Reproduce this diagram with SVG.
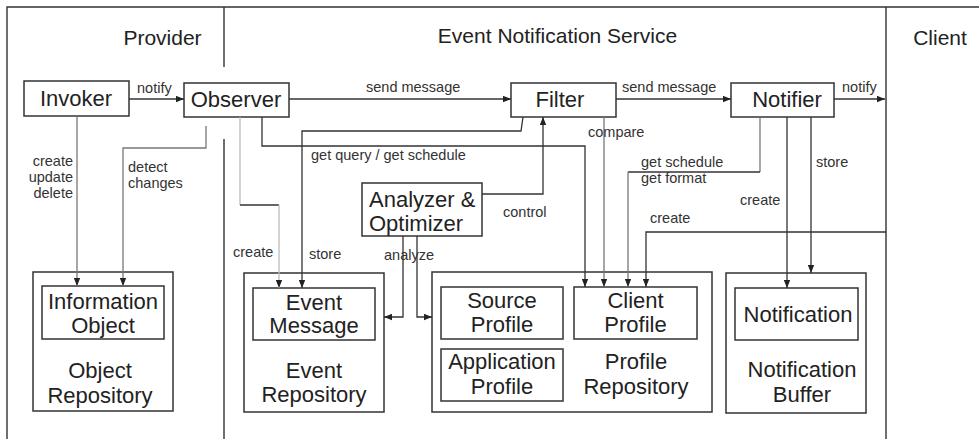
<svg xmlns="http://www.w3.org/2000/svg" width="979" height="439" viewBox="0 0 979 439">
  <style>
    .frame { fill: none; stroke: #333; stroke-width: 1.4; }
    .box { fill: none; stroke: #333; stroke-width: 1.5; }
    .title { font-family: "Liberation Sans", Arial, sans-serif; font-size: 21px; fill: #222; text-anchor: middle; }
    .node { font-family: "Liberation Sans", Arial, sans-serif; font-size: 22px; fill: #222; text-anchor: middle; }
    .node.left { text-anchor: start; }
    .lbl { font-family: "Liberation Sans", Arial, sans-serif; font-size: 14.5px; fill: #333; }
    .lbl.end { text-anchor: end; }
    .c { fill: none; stroke: #333; stroke-width: 1.3; }
    .g { fill: none; stroke: #777; stroke-width: 1.3; }
    .lg { fill: none; stroke: #bbb; stroke-width: 1.3; }
  </style>
  <defs>
    <marker id="arrow" viewBox="0 0 10 8" refX="10" refY="4" markerWidth="8" markerHeight="7" markerUnits="userSpaceOnUse" orient="auto">
      <path d="M0,0 L10,4 L0,8 z" fill="#222"/>
    </marker>
  </defs>

  <rect width="979" height="439" fill="#fff"/>

  <!-- swimlane frame -->
  <g id="lanes">
    <path class="frame" d="M7,439 V7 H979"/>
    <path class="frame" d="M224,7 V67 M224,139 V439"/>
    <path class="frame" d="M886,7 V439"/>
    <text class="title" x="162.5" y="45">Provider</text>
    <text class="title" x="557.5" y="43">Event Notification Service</text>
    <text class="title" x="940" y="45">Client</text>
  </g>

  <!-- nodes -->
  <g id="invoker">
    <rect class="box" x="24" y="81" width="105" height="35"/>
    <text class="node" x="76" y="106">Invoker</text>
  </g>
  <g id="observer">
    <rect class="box" x="184" y="83" width="105" height="34"/>
    <text class="node" x="236" y="107">Observer</text>
  </g>
  <g id="filter">
    <rect class="box" x="511" y="83" width="105" height="34"/>
    <text class="node" x="560" y="107">Filter</text>
  </g>
  <g id="notifier">
    <rect class="box" x="731" y="83" width="103" height="34"/>
    <text class="node" x="787" y="107">Notifier</text>
  </g>
  <g id="analyzer">
    <rect class="box" x="362" y="183" width="120" height="53"/>
    <text class="node left" x="369" y="207">Analyzer &amp;</text>
    <text class="node left" x="369" y="231">Optimizer</text>
  </g>

  <g id="object-repository">
    <rect class="box" x="33" y="272" width="140" height="139"/>
    <text class="node" x="100" y="378">Object</text>
    <text class="node" x="100" y="403">Repository</text>
  </g>
  <g id="information-object">
    <rect class="box" x="42" y="286" width="122" height="53"/>
    <text class="node" x="103" y="309">Information</text>
    <text class="node" x="103" y="333">Object</text>
  </g>

  <g id="event-repository">
    <rect class="box" x="244" y="273" width="140" height="139"/>
    <text class="node" x="314" y="378">Event</text>
    <text class="node" x="314" y="402">Repository</text>
  </g>
  <g id="event-message">
    <rect class="box" x="253" y="288" width="122" height="52"/>
    <text class="node" x="314" y="310">Event</text>
    <text class="node" x="314" y="333">Message</text>
  </g>

  <g id="profile-repository">
    <rect class="box" x="432" y="272" width="280" height="140"/>
    <text class="node" x="636" y="369">Profile</text>
    <text class="node" x="636" y="394">Repository</text>
  </g>
  <g id="source-profile">
    <rect class="box" x="441" y="287" width="122" height="52"/>
    <text class="node" x="502" y="308">Source</text>
    <text class="node" x="502" y="332">Profile</text>
  </g>
  <g id="application-profile">
    <rect class="box" x="441" y="349" width="122" height="52"/>
    <text class="node" x="502" y="369">Application</text>
    <text class="node" x="502" y="394">Profile</text>
  </g>
  <g id="client-profile">
    <rect class="box" x="574" y="287" width="123" height="52"/>
    <text class="node" x="635.5" y="308">Client</text>
    <text class="node" x="635.5" y="332">Profile</text>
  </g>

  <g id="notification-buffer">
    <rect class="box" x="726" y="273" width="140" height="140"/>
    <text class="node" x="802" y="377">Notification</text>
    <text class="node" x="802" y="402">Buffer</text>
  </g>
  <g id="notification">
    <rect class="box" x="735" y="288" width="123" height="52"/>
    <text class="node" x="798" y="322">Notification</text>
  </g>

  <!-- connectors -->
  <g id="connectors">
    <path class="c" d="M129,99 H184" marker-end="url(#arrow)"/>
    <path class="c" d="M289,99 H511" marker-end="url(#arrow)"/>
    <path class="c" d="M616,99 H731" marker-end="url(#arrow)"/>
    <path class="c" d="M834,99 H885" marker-end="url(#arrow)"/>

    <path class="g" d="M77,116 V286" marker-end="url(#arrow)"/>
    <path class="g" d="M206,126 V148 H123 V286" marker-end="url(#arrow)"/>

    <path class="lg" d="M240,117 V205"/>
    <path class="c" d="M240,205 H279"/>
    <path class="lg" d="M279,205 V288" marker-end="url(#arrow)"/>

    <path class="c" d="M262,117 V146 H585 V287" marker-end="url(#arrow)"/>
    <path class="c" d="M523,117 L521,131 H302 V288" marker-end="url(#arrow)"/>

    <path class="c" d="M482,194 H543 V117" marker-end="url(#arrow)"/>
    <path class="g" d="M604,117 V287" marker-end="url(#arrow)"/>
    <path class="g" d="M760,117 V172"/>
    <path class="c" d="M760,172 H628"/>
    <path class="g" d="M628,172 V287" marker-end="url(#arrow)"/>
    <path class="c" d="M886,232 H646 V287" marker-end="url(#arrow)"/>

    <path class="c" d="M787,117 V288" marker-end="url(#arrow)"/>
    <path class="c" d="M811,117 V273" marker-end="url(#arrow)"/>

    <path class="c" d="M403,236 V317 H384" marker-end="url(#arrow)"/>
    <path class="c" d="M417,236 V317 H432" marker-end="url(#arrow)"/>

    <text class="lbl" x="137" y="93">notify</text>
    <text class="lbl" x="366" y="92">send message</text>
    <text class="lbl" x="622" y="92">send message</text>
    <text class="lbl" x="842" y="92">notify</text>
    <text class="lbl end" x="73" y="166">create</text>
    <text class="lbl end" x="73" y="182">update</text>
    <text class="lbl end" x="73" y="198">delete</text>
    <text class="lbl" x="128" y="172">detect</text>
    <text class="lbl" x="128" y="188">changes</text>
    <text class="lbl" x="311" y="160">get query / get schedule</text>
    <text class="lbl" x="588" y="137">compare</text>
    <text class="lbl" x="641" y="167">get schedule</text>
    <text class="lbl" x="641" y="183">get format</text>
    <text class="lbl" x="816" y="167">store</text>
    <text class="lbl" x="740" y="205">create</text>
    <text class="lbl" x="650" y="223">create</text>
    <text class="lbl" x="503" y="217">control</text>
    <text class="lbl" x="384" y="260">analyze</text>
    <text class="lbl" x="233" y="257">create</text>
    <text class="lbl" x="309" y="259">store</text>
  </g>
</svg>
